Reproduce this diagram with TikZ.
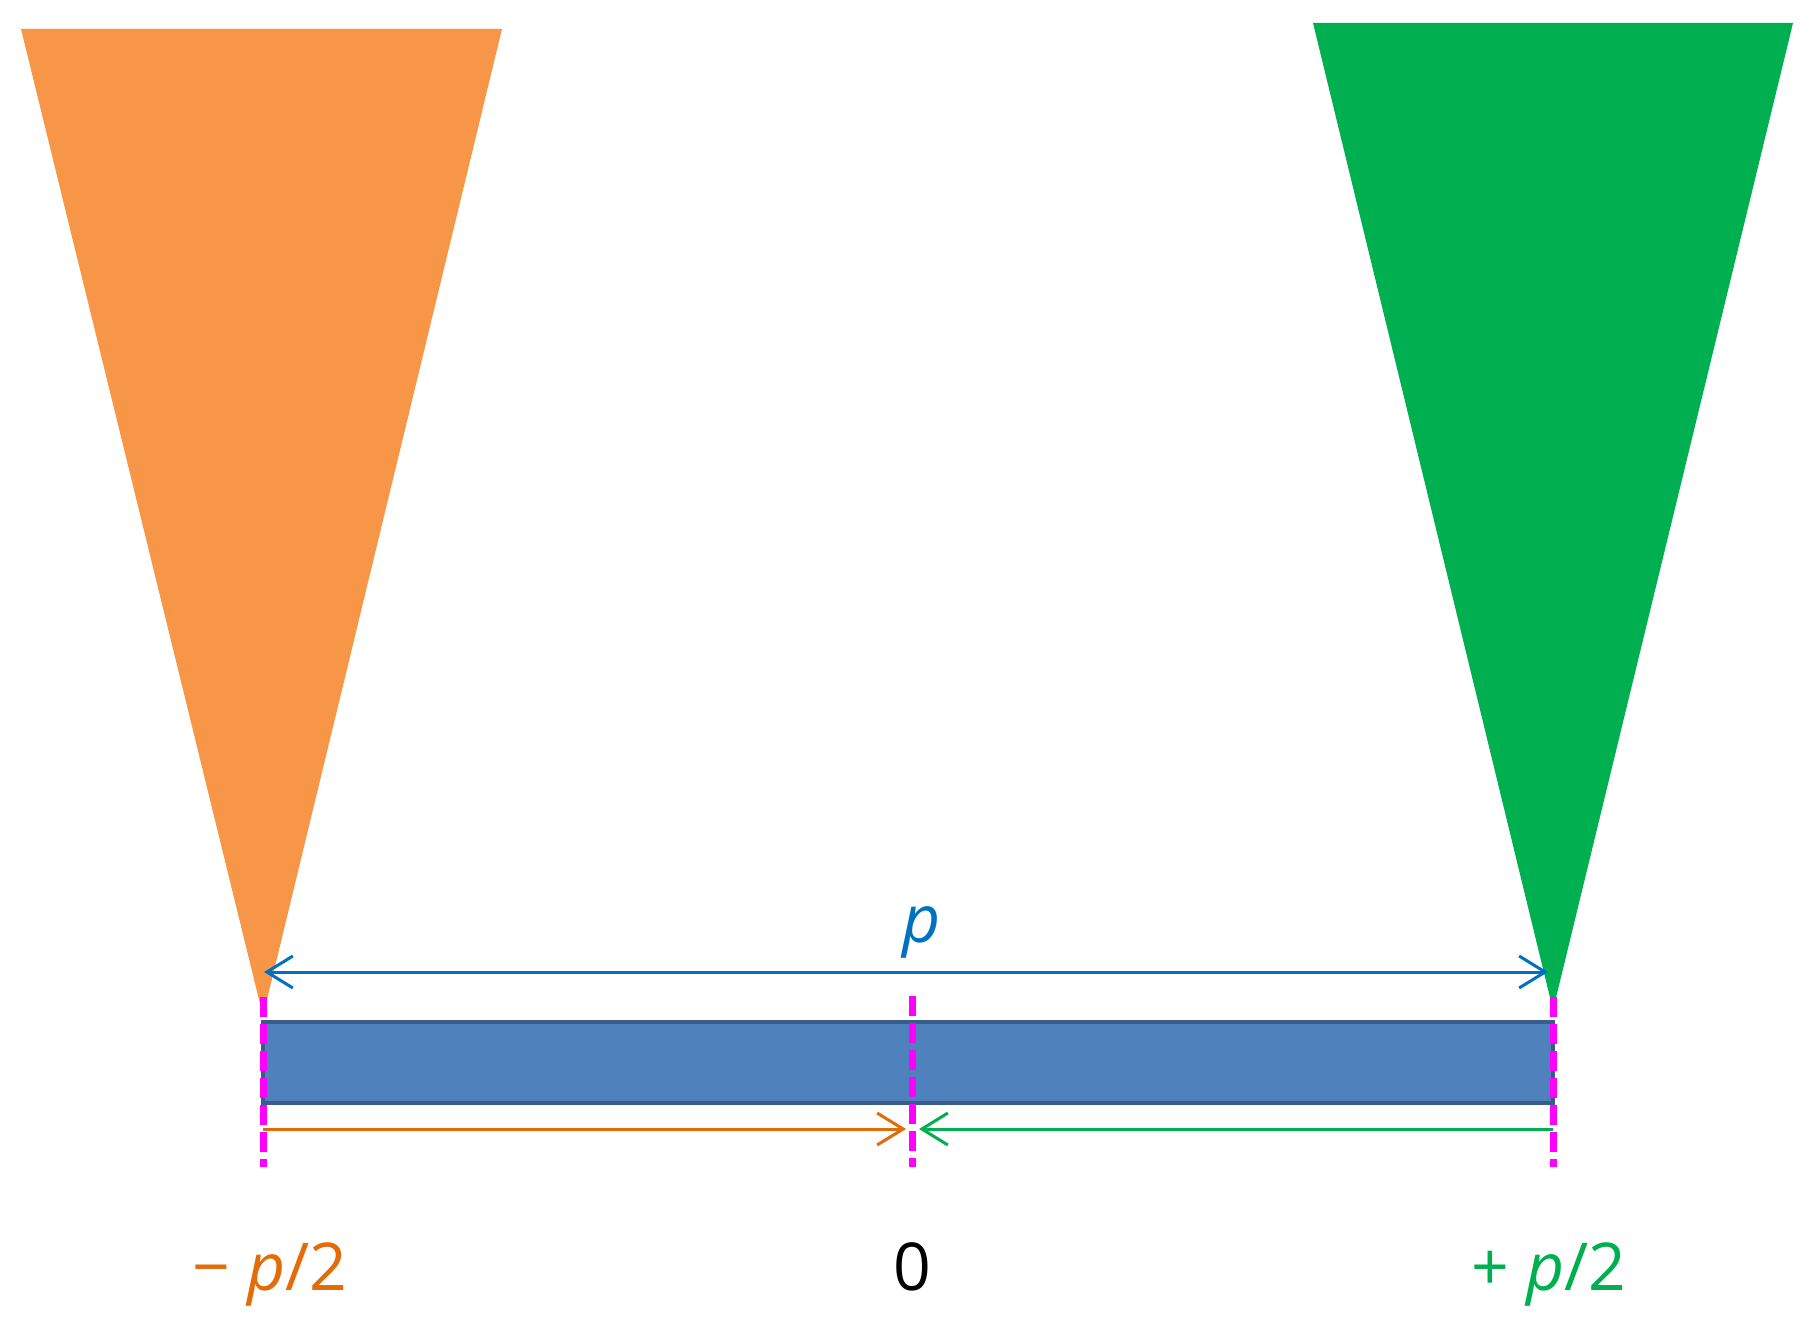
\documentclass[tikz,border=0pt]{standalone}
\usepackage{fontspec}
\setmainfont{Open Sans}
\usetikzlibrary{arrows.meta}
\definecolor{orfill}{HTML}{F79646}
\definecolor{ortext}{HTML}{E36C09}
\definecolor{grfill}{HTML}{00B050}
\definecolor{rectfill}{HTML}{4F81BD}
\definecolor{rectdraw}{HTML}{385D8A}
\definecolor{arrblue}{HTML}{0070C0}
\definecolor{mag}{HTML}{FF00FF}
\tikzset{
  barb/.tip={Straight Barb[length=26pt,width=32pt,line width=3pt]},
  dimarrow/.style={line width=3pt, -barb},
  magline/.style={draw=mag, line width=7pt, dash pattern=on 20pt off 7pt},
  lbl/.style={anchor=base, inner sep=0pt, font=\fontsize{66}{72}\selectfont}
}
\begin{document}
\begin{tikzpicture}[x=1pt,y=-1pt]
\useasboundingbox (0,0) rectangle (1811,1337);
% triangles
\fill[orfill] (21,29) -- (502,29) -- (263,1016) -- cycle;
\fill[grfill] (1313,23) -- (1793,23) -- (1553,1010) -- cycle;
% bar
\draw[fill=rectfill, draw=rectdraw, line width=3.5pt] (263,1022) rectangle (1553,1103);
% coordinates
\coordinate (pL) at (264,972);
\coordinate (pR) at (1548,972);
\coordinate (oL) at (263,1129);
\coordinate (oR) at (906,1129);
\coordinate (gR) at (1553,1129);
\coordinate (gL) at (919,1129);
% arrows
\draw[line width=3pt, draw=arrblue, barb-barb] (pL) -- (pR);
\draw[dimarrow, draw=ortext] (oL) -- (oR);
\draw[dimarrow, draw=grfill] (gR) -- (gL);
% magenta dashed lines
\coordinate (m1t) at (263,997); \coordinate (m1b) at (263,1167);
\coordinate (m2t) at (912,996); \coordinate (m2b) at (912,1167);
\coordinate (m3t) at (1553,997); \coordinate (m3b) at (1553,1167);
\draw[magline] (m1t) -- (m1b);
\draw[magline] (m2t) -- (m2b);
\draw[magline] (m3t) -- (m3b);
% labels
\node[lbl, text=arrblue] (lp) at (922,942) {\textit{p}};
\node[lbl, text=ortext] (lm) at (270,1290) {− \textit{p}/2};
\node[lbl, text=black] (l0) at (912,1290) {0};
\node[lbl, text=grfill] (lpl) at (1549,1290) {+ \textit{p}/2};
\end{tikzpicture}
\end{document}
